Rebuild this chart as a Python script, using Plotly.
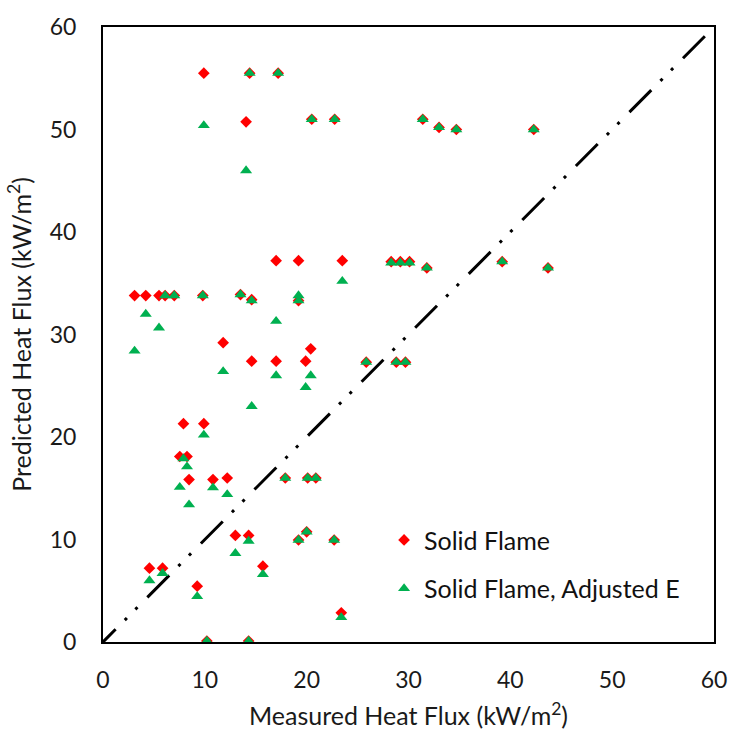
import plotly.graph_objects as go

# Measured heat flux (kW/m2) for each test point
measured = [
    9.9, 14.4, 17.2, 14.05, 20.5, 22.75, 31.4, 33.0, 34.7, 42.3,
    17.0, 19.2, 23.5, 28.3, 29.2, 30.1, 31.8, 39.2, 43.7,
    3.1, 4.2, 5.5, 6.1, 7.0, 9.8, 13.5, 14.6, 19.2,
    11.8, 14.6, 17.0, 19.9, 20.4, 25.85, 28.8, 29.7,
    7.9, 9.9, 7.54, 8.25, 8.45, 10.8, 12.2, 17.9, 20.1, 20.9,
    13.0, 14.3, 19.2, 20.0, 22.7,
    4.56, 5.85, 9.25, 15.7, 10.2, 14.3, 23.4,
]

# Predicted heat flux, solid flame model
solid_flame = [
    55.5, 55.5, 55.5, 50.75, 51.0, 51.0, 51.0, 50.2, 50.0, 50.0,
    37.2, 37.2, 37.2, 37.1, 37.1, 37.1, 36.5, 37.1, 36.5,
    33.8, 33.8, 33.8, 33.8, 33.8, 33.8, 33.9, 33.4, 33.3,
    29.2, 27.4, 27.4, 27.4, 28.6, 27.3, 27.3, 27.3,
    21.3, 21.3, 18.1, 18.1, 15.85, 15.85, 16.0, 16.0, 16.0, 16.0,
    10.4, 10.4, 9.95, 10.75, 9.95,
    7.2, 7.2, 5.45, 7.4, 0.1, 0.1, 2.85,
]

# Predicted heat flux, solid flame model with adjusted emissive power
adjusted_e = [
    50.4, 55.5, 55.5, 46.0, 51.0, 51.0, 51.0, 50.2, 50.0, 50.0,
    31.3, 33.8, 35.2, 37.0, 37.0, 37.0, 36.5, 37.1, 36.5,
    28.4, 32.0, 30.65, 33.8, 33.8, 33.8, 33.9, 33.3, 33.3,
    26.4, 23.0, 26.0, 24.85, 26.0, 27.3, 27.3, 27.3,
    17.9, 20.2, 15.1, 17.1, 13.4, 15.05, 14.4, 16.0, 16.0, 16.0,
    8.65, 9.85, 9.95, 10.75, 9.95,
    6.0, 6.7, 4.45, 6.6, 0.1, 0.1, 2.4,
]

# Line of perfect agreement, drawn from the top end down to the origin
parity = [59.1, 0]

axis_ticks = [0, 10, 20, 30, 40, 50, 60]

FONT = "Lato"
TEXT = "#1a1a1a"

fig = go.Figure()

fig.add_trace(go.Scatter(
    x=parity, y=parity, mode="lines",
    line=dict(color="black", width=3, dash="31px,14px,3px,12px,3px,13px"),
    showlegend=False, hoverinfo="skip",
))

fig.add_trace(go.Scatter(
    x=measured, y=solid_flame, mode="markers", name="Solid Flame",
    legendgroup="a",
    marker=dict(symbol="diamond", size=9, color="#FF0000", line=dict(width=0)),
))

fig.add_trace(go.Scatter(
    x=measured, y=adjusted_e, mode="markers", name="Solid Flame, Adjusted E",
    legendgroup="b",
    marker=dict(symbol="triangle-up", size=10.5, color="#00B050", line=dict(width=0)),
))

axis_common = dict(
    range=[0, 60], tickvals=axis_ticks, ticks="", showgrid=False, zeroline=False,
    showline=True, linecolor="black", linewidth=2, mirror=True,
    tickfont=dict(family=FONT, size=23, color=TEXT),
)

fig.update_layout(
    width=739, height=738,
    margin=dict(l=103, r=18, t=16, b=95),
    paper_bgcolor="white", plot_bgcolor="white",
    font=dict(family=FONT, color=TEXT),
    xaxis=dict(
        **axis_common,
        ticklabelstandoff=16,
        title=dict(text="Measured Heat Flux (kW/m<sup>2</sup>)",
                   font=dict(family=FONT, size=25, color=TEXT), standoff=16),
    ),
    yaxis=dict(
        **axis_common,
        ticklabelstandoff=20,
        title=dict(text="Predicted Heat Flux (kW/m<sup>2</sup>)",
                   font=dict(family=FONT, size=25, color=TEXT), standoff=11),
    ),
    legend=dict(
        x=0.46, y=0.203, xanchor="left", yanchor="top",
        bgcolor="rgba(0,0,0,0)", borderwidth=0,
        font=dict(family=FONT, size=25, color="#111111"),
        tracegroupgap=13,
    ),
)

fig.write_html("out.html")
